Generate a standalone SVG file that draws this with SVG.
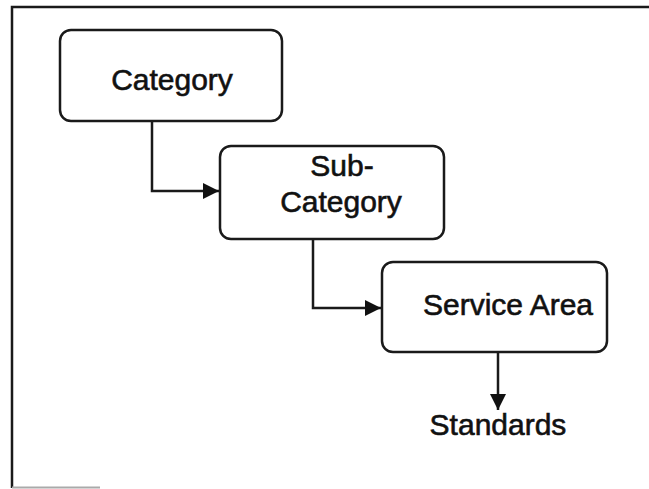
<svg xmlns="http://www.w3.org/2000/svg" width="649" height="489" viewBox="0 0 649 489">
  <defs>
    <marker id="arrow" viewBox="0 0 10 10" refX="10" refY="5" markerWidth="6.5" markerHeight="6.5" markerUnits="strokeWidth" orient="auto">
      <path d="M0,0 L10,5 L0,10 Z" fill="#111"/>
    </marker>
  </defs>
  <style>
    .frame { fill: none; stroke: #1a1a1a; stroke-width: 2.5; }
    .box { fill: #fff; stroke: #1a1a1a; stroke-width: 2.5; }
    .conn { fill: none; stroke: #1a1a1a; stroke-width: 2.5; }
    .lbl { font-family: "Liberation Sans", Arial, sans-serif; font-size: 30px; fill: #111; stroke: #111; stroke-width: 0.6; text-anchor: middle; }
  </style>
  <rect width="649" height="489" fill="#fff"/>
  <g id="frame">
    <path class="frame" d="M12,488 L12,7 L649,7"/>
    <line x1="12" y1="487.5" x2="100" y2="487.5" stroke="#aaa" stroke-width="2"/>
  </g>
  <g id="connectors">
    <path class="conn" d="M152,121 L152,191 L219,191" marker-end="url(#arrow)"/>
    <path class="conn" d="M313,239 L313,308 L381,308" marker-end="url(#arrow)"/>
    <path class="conn" d="M498,353 L498,410" marker-end="url(#arrow)"/>
  </g>
  <g id="category">
    <rect class="box" x="60" y="30" width="222" height="91" rx="11"/>
    <text class="lbl" x="172" y="90">Category</text>
  </g>
  <g id="subcategory">
    <rect class="box" x="220" y="146" width="224" height="93" rx="11"/>
    <text class="lbl" x="342" y="176">Sub-</text>
    <text class="lbl" x="341" y="212">Category</text>
  </g>
  <g id="service-area">
    <rect class="box" x="382" y="262" width="225" height="90" rx="11"/>
    <text class="lbl" x="508" y="315">Service Area</text>
  </g>
  <g id="standards">
    <text class="lbl" x="498" y="435">Standards</text>
  </g>
</svg>
